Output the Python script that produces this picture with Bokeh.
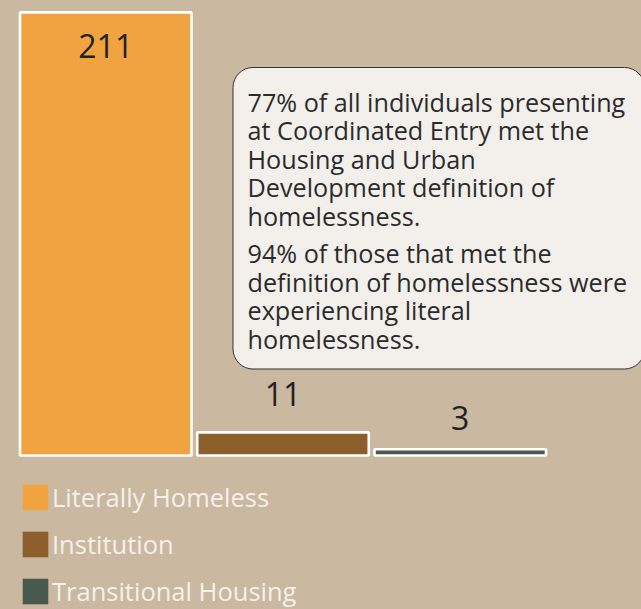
import numpy as np
from bokeh.plotting import figure
from bokeh.models import Range1d, BoxAnnotation, Legend, LegendItem, ColumnDataSource
from bokeh.core.properties import value
from bokeh.embed import file_html
from bokeh.resources import INLINE

# ---- data ----
categories = ["Literally Homeless", "Institution", "Transitional Housing"]
counts = [211, 11, 3]
colors = ["#f2a341", "#8b5e2b", "#4a594e"]
note_p1 = ["77% of all individuals presenting",
           "at Coordinated Entry met the",
           "Housing and Urban",
           "Development definition of",
           "homelessness."]
note_p2 = ["94% of those that met the",
           "definition of homelessness were",
           "experiencing literal",
           "homelessness."]

# ---- geometry / style ----
W, H = 641, 609
BG = "#cab8a1"
FONT_NAME = "Open Sans"
FONT = value(FONT_NAME)
sx = 177.25                       # px per category slot
x_start = -105.25 / sx
x_end = x_start + W / sx
ky = 2.1                          # px per count
y_start = -(H - 455) / ky
y_end = y_start + H / ky


def fx(px):
    return x_start + px / sx


def fy(py):
    return y_start + (H - py) / ky


p = figure(width=W, height=H, output_backend="svg", toolbar_location=None, tools="",
           x_range=Range1d(x_start, x_end), y_range=Range1d(y_start, y_end),
           min_border=0)
p.axis.visible = False
p.grid.visible = False
p.outline_line_color = None
p.background_fill_color = BG
p.border_fill_color = BG

idx = list(range(len(categories)))
src = ColumnDataSource(dict(x=idx, top=counts, color=colors, cat=categories,
                            lbl=[str(c) for c in counts], yoff=[34, -38, -31]))
p.vbar(x="x", top="top", bottom=0, width=171.5 / sx, source=src,
       fill_color="color", line_color="white", line_width=2.6)
p.text(x="x", y="top", text="lbl", y_offset="yoff", source=src,
       text_align="center", text_baseline="middle", text_font=FONT,
       text_font_size="32px", text_color="#222222")

# note box (drawn beneath the text glyphs)
box = BoxAnnotation(left=fx(232.5), right=fx(644), top=fy(67), bottom=fy(368.5),
                    fill_color="#f3f0eb", fill_alpha=1.0, line_color="#333333",
                    line_alpha=1.0, line_width=1, border_radius=20, level="underlay")
p.add_layout(box)

shift = -8
base1 = [109 + shift + 28.5 * i for i in range(len(note_p1))]
base2 = [260.5 + shift + 28.5 * i for i in range(len(note_p2))]
lines = note_p1 + note_p2
p.text(x=[fx(247)] * len(lines), y=[fy(b) for b in base1 + base2], text=lines,
       text_baseline="alphabetic", text_align="left", text_font=FONT,
       text_font_size="25.2px", text_color="#2b2b2b")

# legend (swatch-only renderers, nothing drawn in the plot)
items = []
for cat, col in zip(categories, colors):
    r = p.quad(left=[np.nan], right=[np.nan], top=[np.nan], bottom=[np.nan],
               fill_color=col, line_color=None)
    items.append(LegendItem(label=cat, renderers=[r]))
legend = Legend(items=items, location=(19, 1), orientation="vertical",
                glyph_width=32, glyph_height=32, label_height=32, spacing=13,
                padding=0, margin=0, label_standoff=1,
                label_text_font=FONT_NAME, label_text_font_size="25.5px",
                label_text_color="#f5f1ea", border_line_alpha=0,
                background_fill_alpha=0)
p.add_layout(legend)

html = file_html(p, INLINE)
html = html.replace("<head>", "<head><style>body{background:%s;}</style>" % BG, 1)
open("out.html", "w").write(html)
